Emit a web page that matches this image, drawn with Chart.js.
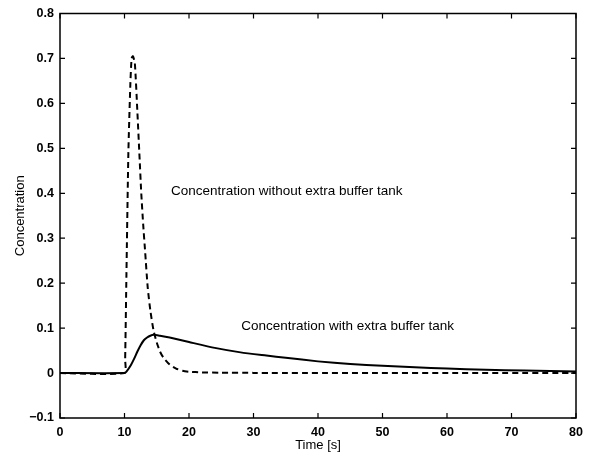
<!DOCTYPE html>
<html>
<head>
<meta charset="utf-8">
<script src="https://cdn.jsdelivr.net/npm/chart.js@4/dist/chart.umd.min.js"></script>
<style>
html,body{margin:0;padding:0;background:#fff;}
#wrap{width:595px;height:462px;}
</style>
</head>
<body>
<div id="wrap"><canvas id="c" width="595" height="462"></canvas></div>
<script>
// Time [s] and concentration, without extra buffer tank (dashed)
const timeWithout = [0, 10, 10.1, 10.3, 10.6, 10.9, 11.1, 11.3, 11.6, 12.0, 12.3, 12.6, 12.9, 13.2, 13.6, 14.0, 14.5, 15.0, 15.5, 16.0, 17.0, 18.0, 19.0, 20.0, 22.0, 25.0, 30.0, 80.0];
const concWithout = [0, 0, 0.03, 0.22, 0.49, 0.64, 0.70, 0.705, 0.69, 0.58, 0.49, 0.40, 0.33, 0.27, 0.19, 0.14, 0.095, 0.068, 0.048, 0.035, 0.019, 0.010, 0.005, 0.003, 0.0015, 0.0008, 0.0004, 0.0];
// Time [s] and concentration, with extra buffer tank (solid)
const timeWith = [0, 10, 10.3, 11.0, 11.5, 12.0, 12.5, 13.0, 13.5, 14.0, 14.5, 15.5, 17.0, 20.0, 24.0, 28.0, 32.0, 35.0, 40.0, 45.0, 50.0, 55.0, 60.0, 66.0, 72.0, 80.0];
const concWith = [0, 0, 0.003, 0.018, 0.032, 0.048, 0.062, 0.073, 0.079, 0.083, 0.085, 0.083, 0.079, 0.069, 0.056, 0.046, 0.039, 0.034, 0.026, 0.020, 0.016, 0.013, 0.010, 0.0075, 0.0055, 0.0035];
const xTicks = [0, 10, 20, 30, 40, 50, 60, 70, 80];
const yTicks = [-0.1, 0, 0.1, 0.2, 0.3, 0.4, 0.5, 0.6, 0.7, 0.8];
const annotations = [
  {text: 'Concentration without extra buffer tank', t: 17.2, v: 0.405},
  {text: 'Concentration with extra buffer tank', t: 28.1, v: 0.103}
];

const FONT = '"Liberation Sans", Arial, Helvetica, sans-serif';

function pts(xs, ys){ return xs.map((x,i)=>({x:x, y:ys[i]})); }

const framePlugin = {
  id: 'frame',
  afterDatasetsDraw(chart){
    const ctx = chart.ctx, a = chart.chartArea;
    const xs = chart.scales.x, ys = chart.scales.y;
    ctx.save();
    ctx.strokeStyle = '#000';
    ctx.lineWidth = 1.5;
    ctx.strokeRect(a.left, a.top, a.right - a.left, a.bottom - a.top);
    const L = 5;
    ctx.lineWidth = 1.2;
    ctx.beginPath();
    xTicks.forEach(t => {
      const p = xs.getPixelForValue(t);
      ctx.moveTo(p, a.bottom); ctx.lineTo(p, a.bottom - L);
      ctx.moveTo(p, a.top); ctx.lineTo(p, a.top + L);
    });
    yTicks.forEach(t => {
      const p = ys.getPixelForValue(t);
      ctx.moveTo(a.left, p); ctx.lineTo(a.left + L, p);
      ctx.moveTo(a.right, p); ctx.lineTo(a.right - L, p);
    });
    ctx.stroke();
    ctx.fillStyle = '#000';
    ctx.font = '13.5px ' + FONT;
    ctx.textAlign = 'left';
    ctx.textBaseline = 'middle';
    annotations.forEach(an => {
      ctx.fillText(an.text, xs.getPixelForValue(an.t), ys.getPixelForValue(an.v));
    });
    ctx.restore();
  }
};

new Chart(document.getElementById('c'), {
  type: 'scatter',
  data: {
    datasets: [
      {
        label: 'without',
        data: pts(timeWithout, concWithout),
        showLine: true,
        borderColor: '#000',
        borderWidth: 2,
        borderDash: [6, 4],
        pointRadius: 0,
        tension: 0.2,
        fill: false
      },
      {
        label: 'with',
        data: pts(timeWith, concWith),
        showLine: true,
        borderColor: '#000',
        borderWidth: 2,
        pointRadius: 0,
        tension: 0.2,
        fill: false
      }
    ]
  },
  options: {
    responsive: false,
    animation: false,
    layout: {padding: {left: 13, right: 19, top: 12, bottom: 9}},
    plugins: {legend: {display: false}, tooltip: {enabled: false}},
    scales: {
      x: {
        type: 'linear', min: 0, max: 80,
        afterBuildTicks: s => { s.ticks = xTicks.map(v => ({value: v})); },
        afterFit: s => { s.height = 35; },
        grid: {display: false, drawTicks: false},
        border: {display: false},
        ticks: {color: '#000', padding: 7, font: {family: FONT, size: 12.5, weight: 'bold'}, maxRotation: 0},
        title: {display: true, text: 'Time [s]', color: '#000', padding: {top: 2, bottom: 0}, font: {family: FONT, size: 13}}
      },
      y: {
        type: 'linear', min: -0.1, max: 0.8,
        afterBuildTicks: s => { s.ticks = yTicks.map(v => ({value: v})); },
        afterFit: s => { s.width = 47; },
        grid: {display: false, drawTicks: false},
        border: {display: false},
        ticks: {color: '#000', padding: 6, font: {family: FONT, size: 12.5, weight: 'bold'},
          callback: v => { const r = Math.round(v*10)/10; return r === 0 ? '0' : (r < 0 ? '\u2212' + Math.abs(r).toFixed(1) : r.toFixed(1)); }},
        title: {display: true, text: 'Concentration', color: '#000', padding: {top: 0, bottom: 6}, font: {family: FONT, size: 13}}
      }
    }
  },
  plugins: [framePlugin]
});
</script>
</body>
</html>
